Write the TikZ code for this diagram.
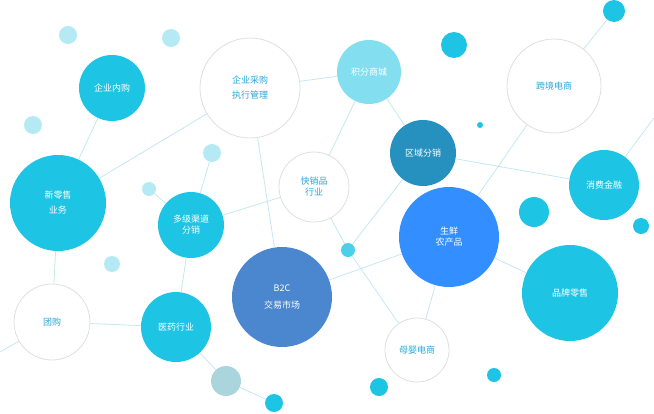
\documentclass[tikz,border=0pt]{standalone}
\usepackage{fontspec}
\setmainfont{Noto Sans CJK SC}
\definecolor{cyanfill}{HTML}{1EC4E4}
\definecolor{lightdot}{HTML}{B5EAF5}
\definecolor{linecol}{HTML}{C4E8F2}
\definecolor{txtblue}{HTML}{2AA6D8}
\tikzset{
  solid/.style={circle,fill=cyanfill,text=white,font=\small,align=center,inner sep=0pt},
  hollow/.style={circle,fill=white,draw=gray!25,line width=0.8pt,text=txtblue,font=\small,align=center,inner sep=0pt},
  dot/.style={circle,fill=lightdot,inner sep=0pt},
  link/.style={draw=linecol,line width=0.8pt}
}
\begin{document}
\begin{tikzpicture}[x=1pt,y=-1pt]
\useasboundingbox (0,0) rectangle (654,413);
% small dots
\node[dot,minimum size=18pt] (d1) at (68,35) {};
\node[dot,minimum size=18pt] (d2) at (171,38) {};
\node[dot,minimum size=18pt] (d3) at (33,125) {};
\node[dot,minimum size=16pt] (d4) at (112,264) {};
\node[dot,minimum size=14pt] (d5) at (149,189) {};
\node[dot,minimum size=18pt] (d6) at (212,153) {};
\node[dot,fill=cyanfill!80,minimum size=14pt] (d7) at (348,250) {};
\node[dot,fill=cyanfill,minimum size=26pt] (d8) at (454,45) {};
\node[dot,fill=cyanfill,minimum size=22pt] (d9) at (614,11) {};
\node[dot,fill=cyanfill,minimum size=6pt] (d10) at (480,125) {};
\node[dot,fill=cyanfill,minimum size=30pt] (d11) at (534,212) {};
\node[dot,fill=cyanfill,minimum size=16pt] (d12) at (641,226) {};
\node[dot,fill=lightdot!80!gray,minimum size=30pt] (d13) at (226,381) {};
\node[dot,fill=cyanfill,minimum size=18pt] (d14) at (274,403) {};
\node[dot,fill=cyanfill,minimum size=18pt] (d15) at (379,387) {};
\node[dot,fill=cyanfill,minimum size=14pt] (d16) at (494,375) {};
\coordinate (c1) at (654,118);
\coordinate (c2) at (0,352);
% main circles
\node[solid,minimum size=66pt] (neigou) at (112,88) {企业内购};
\node[hollow,minimum size=100pt] (caigou) at (250,88) {企业采购\\[4pt]执行管理};
\node[solid,fill=cyanfill!55!white,minimum size=64pt] (jifen) at (369,72) {积分商城};
\node[hollow,minimum size=94pt] (kuajing) at (554,86) {跨境电商};
\node[solid,fill=blue!30!cyan!70!black!85,minimum size=66pt] (quyu) at (423,153) {区域分销};
\node[solid,minimum size=70pt] (jinrong) at (604,185) {消费金融};
\node[solid,minimum size=96pt] (xinlingshou) at (58,203) {新零售\\[4pt]业务};
\node[hollow,minimum size=70pt] (kuaixiao) at (314,187) {快销品\\行业};
\node[solid,minimum size=66pt] (duoji) at (191,225) {多级渠道\\分销};
\node[solid,fill=blue!55!cyan!80!white,minimum size=100pt] (shengxian) at (449,237) {生鲜\\农产品};
\node[solid,minimum size=96pt] (pinpai) at (570,293) {品牌零售};
\node[solid,fill=cyan!50!blue!75!white,minimum size=100pt] (btoc) at (282,297) {B2C\\[6pt]交易市场};
\node[hollow,minimum size=76pt] (tuangou) at (52,322) {团购};
\node[solid,minimum size=70pt] (yiyao) at (176,327) {医药行业};
\node[hollow,minimum size=64pt] (muying) at (417,350) {母婴电商};
% connectors
\begin{scope}[on background layer/.style={}]
\end{scope}
\path[link] (neigou) -- (xinlingshou) (xinlingshou) -- (caigou) (xinlingshou) -- (tuangou)
  (tuangou) -- (yiyao) (yiyao) -- (duoji) (duoji) -- (kuaixiao) (caigou) -- (jifen)
  (jifen) -- (quyu) (jifen) -- (kuaixiao) (quyu) -- (jinrong) (quyu) -- (d7)
  (kuaixiao) -- (d7) (d7) -- (muying) (btoc) -- (shengxian) (btoc) -- (caigou)
  (shengxian) -- (pinpai) (shengxian) -- (kuajing) (jinrong) -- (c1) (kuajing) -- (d9)
  (yiyao) -- (d13) (d13) -- (d14) (duoji) -- (d5) (duoji) -- (d6) (tuangou) -- (c2)
  (shengxian) -- (muying);
\end{tikzpicture}
\end{document}
